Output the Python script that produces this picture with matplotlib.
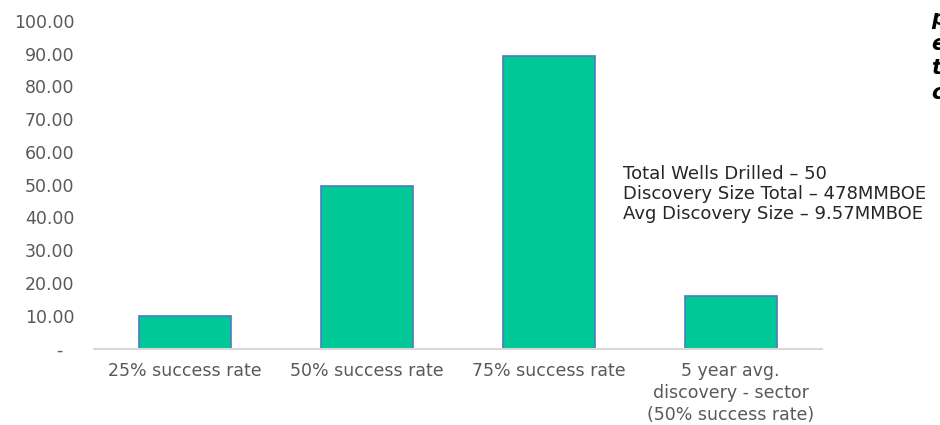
import matplotlib
matplotlib.use('Agg')
from matplotlib import pyplot as plt
from matplotlib.ticker import FuncFormatter

categories = ['25% success rate', '50% success rate', '75% success rate',
              '5 year avg.\ndiscovery - sector\n(50% success rate)']
values = [9.9, 49.6, 89.4, 16.1]
y_ticks = [0, 10, 20, 30, 40, 50, 60, 70, 80, 90, 100]
notes = ['Total Wells Drilled \u2013 50',
         'Discovery Size Total \u2013 478MMBOE',
         'Avg Discovery Size \u2013 9.57MMBOE']
side_letters = ['p', 'e', 't', 'c']

plt.rcParams['font.family'] = ['DejaVu Sans']

fig = plt.figure(figsize=(9.4, 4.25), dpi=100)
ax = fig.add_axes([0.1, 0.18, 0.774, 0.771])

ax.bar(range(len(values)), values, width=0.505, color='#00c896',
       edgecolor='#4f7ac0', linewidth=1.2)

ax.set_xlim(-0.5, len(values) - 0.5)
ax.set_ylim(0, 100)
ax.set_yticks(y_ticks)
ax.yaxis.set_major_formatter(FuncFormatter(lambda v, p: '-  ' if v == 0 else f'{v:.2f}'))
ax.set_xticks(range(len(values)))
ax.set_xticklabels(categories, linespacing=1.27)

for side in ['top', 'right', 'left']:
    ax.spines[side].set_visible(False)
ax.spines['bottom'].set_color('#d9d9d9')
ax.spines['bottom'].set_linewidth(1.5)
ax.tick_params(axis='both', length=0, labelsize=12.5, colors='#595959')
ax.tick_params(axis='x', pad=10)
ax.tick_params(axis='y', pad=14)

fig.text(623 / 940, 1 - 194 / 425, '\n'.join(notes), fontsize=13, color='#262626',
         va='center', ha='left', linespacing=1.15)

fig.text(931 / 940, 1 - 56 / 425, '\n'.join(side_letters), fontsize=15,
         fontweight='bold', fontstyle='italic', color='black',
         va='center', ha='left', linespacing=1.3)

fig.savefig('out.png', dpi=100)
